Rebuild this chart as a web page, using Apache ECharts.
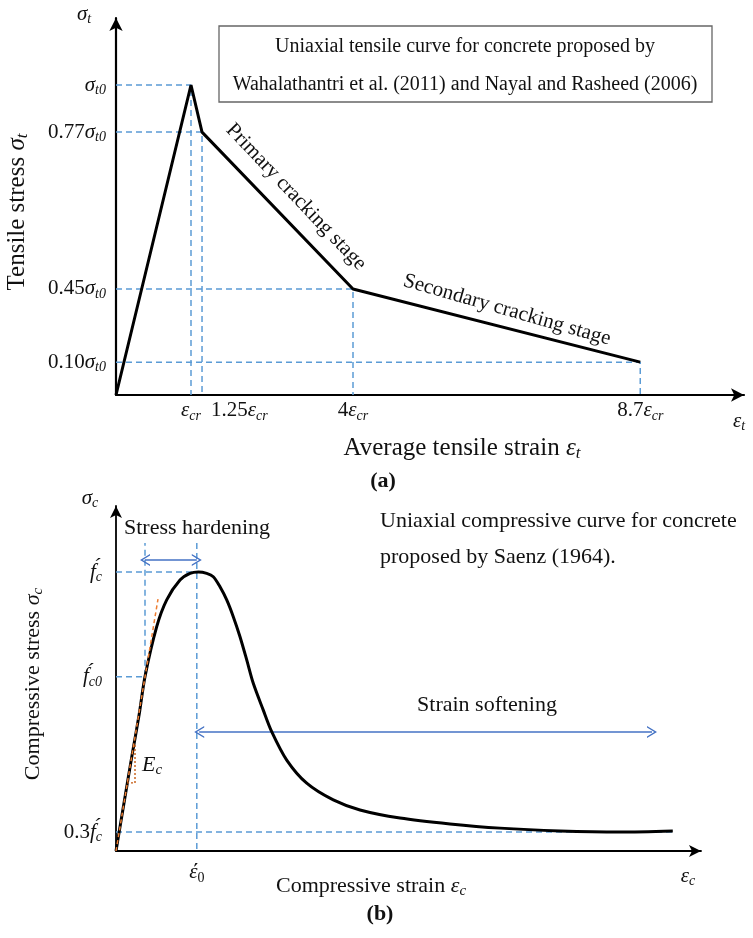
<!DOCTYPE html>
<html><head><meta charset="utf-8">
<script src="https://cdn.jsdelivr.net/npm/echarts@6/dist/echarts.min.js"></script>
<style>html,body{margin:0;padding:0;background:#fff}#c{width:753px;height:938px}</style>
</head><body><div id="c"></div>
<script>
// ---------- (a) uniaxial tensile curve (schematic positions as drawn) ----------
const tensileStrain = [0, 1.0, 1.147, 3.16, 6.99];      // in drawn units (ε_cr spacing)
const tensileStress = [0, 1.0, 0.848, 0.342, 0.106];    // in drawn units (σt0 spacing)
const tensileXTicks = ['ε_cr', '1.25ε_cr', '4ε_cr', '8.7ε_cr'];
const tensileYTicks = ['σ_t0', '0.77σ_t0', '0.45σ_t0', '0.10σ_t0'];

// ---------- (b) uniaxial compressive curve (Saenz), schematic ----------
const compStrain = [0, 0.1, 0.2, 0.29, 0.3625, 0.509, 0.634, 0.8, 0.925, 1.03, 1.134, 1.216, 1.3, 1.384, 1.466, 1.55, 1.634, 1.716, 1.841, 1.946, 2.134, 2.384, 2.716, 3.05, 3.55, 4.175, 4.8, 5.55, 6.3, 6.96];
const compStress = [0, 0.172, 0.342, 0.49, 0.625, 0.804, 0.900, 0.971, 0.995, 1.0, 0.995, 0.983, 0.947, 0.900, 0.840, 0.768, 0.685, 0.601, 0.505, 0.428, 0.326, 0.243, 0.183, 0.147, 0.118, 0.097, 0.082, 0.072, 0.068, 0.072];
const compKeyStrain = [1.01, 0.3625];        // ε'0, point of f'c0
const compKeyStress = [1.0, 0.625, 0.068];   // f'c, f'c0, 0.3f'c
const compYTicks = ['f\u0301_c', 'f\u0301_c0', '0.3f\u0301_c'];
const compXTicks = ['ε\u0301_0'];
const guideTop = 1.104;
const tangentStrain = [0, 0.525];
const tangentStress = [0, 0.903];
const ecTriStrain = [0.1375, 0.2375, 0.2375];
const ecTriStress = [0.244, 0.244, 0.387];
const hardeningArrow = {strain: [0.3625, 1.01], stress: 1.043};
const softeningArrow = {strain: [1.04, 6.7], stress: 0.4265};

const SERIF = "'Liberation Serif','Times New Roman',serif";
const INK = '#111';
function richSet(size, p) {
  const sub = Math.round(size * 0.68);
  const o = {};
  o[p + 'n'] = {fontFamily: SERIF, fontSize: size, lineHeight: size + 4, color: INK, fill: INK};
  o[p + 'i'] = {fontFamily: SERIF, fontStyle: 'italic', fontSize: size, lineHeight: size + 4, color: INK, fill: INK};
  o[p + 's'] = {fontFamily: SERIF, fontStyle: 'italic', fontSize: sub, lineHeight: sub, verticalAlign: 'bottom', color: INK, fill: INK};
  o[p + 'r'] = {fontFamily: SERIF, fontSize: sub, lineHeight: sub, verticalAlign: 'bottom', color: INK, fill: INK};
  return o;
}
const RICH = Object.assign({}, richSet(21, ''), richSet(22, 'M'), richSet(25, 'L'));

function toRich(label, p) {
  const parts = label.split('_');
  const main = parts[0], sub = parts[1];
  let out = '', cur = null, buf = '';
  for (const ch of main) {
    let st;
    if (/[\u0300-\u036f]/.test(ch)) st = cur || 'i';
    else if (/[0-9. ]/.test(ch)) st = 'n';
    else st = 'i';
    if (st !== cur && buf) { out += '{' + p + cur + '|' + buf + '}'; buf = ''; }
    cur = st; buf += ch;
  }
  if (buf) out += '{' + p + cur + '|' + buf + '}';
  if (sub) out += /^[0-9]+$/.test(sub) ? '{' + p + 'r|' + sub + '}' : '{' + p + 's|' + sub + '}';
  return out;
}
function nearestIdx(arr, v) {
  let b = 0; for (let i = 0; i < arr.length; i++) if (Math.abs(arr[i] - v) < Math.abs(arr[b] - v)) b = i; return b;
}
const pairs = (xs, ys) => xs.map((x, i) => [x, ys[i]]);

const axisLineA = {show: true, lineStyle: {color: '#000', width: 2.2}, symbol: ['none', 'arrow'], symbolSize: [10, 13]};
const axisLineB = {show: true, lineStyle: {color: '#000', width: 1.8}, symbol: ['none', 'arrow'], symbolSize: [9, 12]};

const tXVals = tensileStrain.slice(1), tYVals = tensileStress.slice(1);
const tXMain = tXVals.filter((v, i) => i !== 1);   // ε_cr, 4ε_cr, 8.7ε_cr
const tXSide = [tXVals[1]];                          // 1.25ε_cr (drawn to the right of its guide)
const cYVals = compKeyStress.slice();
const cXVals = [compKeyStrain[0]];

const dash = {color: '#5B9BD5', width: 1.5, type: [6, 4]};
const series = [];
series.push({type: 'line', xAxisIndex: 0, yAxisIndex: 0, data: pairs(tensileStrain, tensileStress), symbol: 'none', lineStyle: {color: '#000', width: 3}, z: 5, silent: true});
for (let k = 1; k < tensileStrain.length; k++) {
  series.push({type: 'line', xAxisIndex: 0, yAxisIndex: 0, symbol: 'none', lineStyle: dash, z: 3, silent: true,
    data: [[0, tensileStress[k]], [tensileStrain[k], tensileStress[k]], [tensileStrain[k], 0]]});
}
// (b) main curve
series.push({type: 'line', xAxisIndex: 1, yAxisIndex: 1, data: pairs(compStrain, compStress), symbol: 'none', smooth: 0.3, lineStyle: {color: '#000', width: 3}, z: 5, silent: true});
const endStrain = compStrain[compStrain.length - 1];
// guides
series.push({type: 'line', xAxisIndex: 1, yAxisIndex: 1, symbol: 'none', lineStyle: dash, z: 3, silent: true,
  data: [[0, compKeyStress[0]], [compKeyStrain[0], compKeyStress[0]]]});
series.push({type: 'line', xAxisIndex: 1, yAxisIndex: 1, symbol: 'none', lineStyle: dash, z: 3, silent: true,
  data: [[compKeyStrain[0], guideTop], [compKeyStrain[0], 0]]});
series.push({type: 'line', xAxisIndex: 1, yAxisIndex: 1, symbol: 'none', lineStyle: dash, z: 3, silent: true,
  data: [[0, compKeyStress[1]], [compKeyStrain[1], compKeyStress[1]], [compKeyStrain[1], guideTop]]});
const chevron = 'path://M0,12 L6,0 L12,12 L10.4,12 L6,3.2 L1.6,12 Z';
series.push({type: 'line', xAxisIndex: 1, yAxisIndex: 1, symbol: 'none', lineStyle: dash, z: 3, silent: true,
  data: [[0, compKeyStress[2]], [endStrain, compKeyStress[2]]],
  markLine: {silent: true, symbol: [chevron, chevron], symbolSize: [12, 10], label: {show: false}, emphasis: {disabled: true},
    lineStyle: {color: '#4472C4', width: 1.6, type: 'solid'}, animation: false,
    data: [
      [{coord: [hardeningArrow.strain[0], hardeningArrow.stress]}, {coord: [hardeningArrow.strain[1], hardeningArrow.stress]}],
      [{coord: [softeningArrow.strain[0], softeningArrow.stress]}, {coord: [softeningArrow.strain[1], softeningArrow.stress]}]
    ]}});
series.push({type: 'line', xAxisIndex: 1, yAxisIndex: 1, symbol: 'none', z: 6, silent: true,
  lineStyle: {color: '#ED7D31', width: 1.5, type: [4, 3]}, data: pairs(tangentStrain, tangentStress)});
series.push({type: 'line', xAxisIndex: 1, yAxisIndex: 1, symbol: 'none', z: 6, silent: true,
  lineStyle: {color: '#C55A11', width: 1.4, type: [2, 2]}, data: pairs(ecTriStrain, ecTriStress)});

function txt(x, y, text, opt) {
  return Object.assign({type: 'text', x: x, y: y, silent: true, style: {text: text, rich: RICH, fill: INK,
    fontFamily: SERIF, fontSize: 21, align: 'center', verticalAlign: 'middle', textAlign: 'center', textVerticalAlign: 'middle'}}, opt || {});
}
function plain(x, y, text, size, opt, extra) {
  const e = txt(x, y, text, opt);
  e.style.fontSize = size;
  if (extra) Object.assign(e.style, extra);
  return e;
}

const graphics = [
  // (a)
  txt(84, 14, '{i|σ}{s|t}'),
  txt(17, 212, '{Ln|Tensile stress }{Li|σ}{Ls|t}', {rotation: Math.PI / 2}),
  {type: 'rect', shape: {x: 219, y: 26, width: 493, height: 76}, style: {fill: 'none', stroke: '#666', lineWidth: 1.3}, silent: true},
  plain(465, 47, 'Uniaxial tensile curve for concrete proposed by', 20),
  plain(465, 85, 'Wahalathantri et al. (2011) and Nayal and Rasheed (2006)', 20),
  plain(296, 197, 'Primary cracking stage', 21, {rotation: -46.5 * Math.PI / 180}),
  plain(507, 310, 'Secondary cracking stage', 21, {rotation: -16 * Math.PI / 180}),
  txt(739, 421, '{i|ε}{s|t}'),
  txt(462, 448, '{Ln|Average tensile strain }{Li|ε}{Ls|t}'),
  plain(383, 481, '(a)', 22, null, {fontWeight: 'bold'}),
  // (b)
  txt(90, 498, '{i|σ}{s|c}'),
  txt(33, 684, '{Mn|Compressive stress }{Mi|σ}{Ms|c}', {rotation: Math.PI / 2}),
  plain(197, 528, 'Stress hardening', 22),
  plain(380, 521, 'Uniaxial compressive curve for concrete', 22, null, {align: 'left', textAlign: 'left'}),
  plain(380, 557, 'proposed by Saenz (1964).', 22, null, {align: 'left', textAlign: 'left'}),
  plain(487, 705, 'Strain softening', 22),
  txt(152, 765, '{Mi|E}{Ms|c}'),
  txt(371, 886, '{Mn|Compressive strain }{Mi|ε}{Ms|c}'),
  txt(688, 876, '{i|ε}{s|c}'),
  plain(380, 914, '(b)', 22, null, {fontWeight: 'bold'})
];

const hiddenTick = {show: false};
const option = {
  animation: false,
  backgroundColor: '#fff',
  grid: [
    {left: 116, top: 18, width: 628, height: 377, outerBoundsMode: 'none', containLabel: false},
    {left: 116, top: 506, width: 585, height: 345, outerBoundsMode: 'none', containLabel: false}
  ],
  xAxis: [
    {gridIndex: 0, type: 'value', position: 'bottom', min: 0, max: 628 / 75, axisLine: axisLineA, axisTick: hiddenTick, splitLine: {show: false},
      axisLabel: {customValues: tXMain, margin: 3, rich: RICH, showMinLabel: true, showMaxLabel: true, hideOverlap: false,
        formatter: v => toRich(tensileXTicks[nearestIdx(tXVals, v)], '')}},
    {gridIndex: 1, type: 'value', position: 'bottom', min: 0, max: 585 / 80, axisLine: axisLineB, axisTick: hiddenTick, splitLine: {show: false},
      axisLabel: {customValues: cXVals, margin: 9, rich: RICH, showMinLabel: true, showMaxLabel: true,
        formatter: v => toRich(compXTicks[nearestIdx(cXVals, v)], '')}},
    {gridIndex: 0, type: 'value', position: 'bottom', offset: 0, min: 0, max: 628 / 75, axisLine: {show: false}, axisTick: hiddenTick, splitLine: {show: false},
      axisLabel: {customValues: tXSide, margin: 3, rich: RICH, align: 'left', padding: [0, 0, 0, 9], showMinLabel: true, showMaxLabel: true,
        formatter: v => toRich(tensileXTicks[nearestIdx(tXVals, v)], '')}}
  ],
  yAxis: [
    {gridIndex: 0, type: 'value', min: 0, max: 377 / 310, axisLine: axisLineA, axisTick: hiddenTick, splitLine: {show: false},
      axisLabel: {customValues: tYVals, margin: 10, rich: RICH, showMinLabel: true, showMaxLabel: true,
        formatter: v => toRich(tensileYTicks[nearestIdx(tYVals, v)], '')}},
    {gridIndex: 1, type: 'value', min: 0, max: 345 / 279, axisLine: axisLineB, axisTick: hiddenTick, splitLine: {show: false},
      axisLabel: {customValues: cYVals, margin: 14, rich: RICH, showMinLabel: true, showMaxLabel: true,
        formatter: v => toRich(compYTicks[nearestIdx(cYVals, v)], '')}}
  ],
  series: series,
  graphic: {elements: graphics}
};
const chart = echarts.init(document.getElementById('c'));
chart.setOption(option);
</script></body></html>
